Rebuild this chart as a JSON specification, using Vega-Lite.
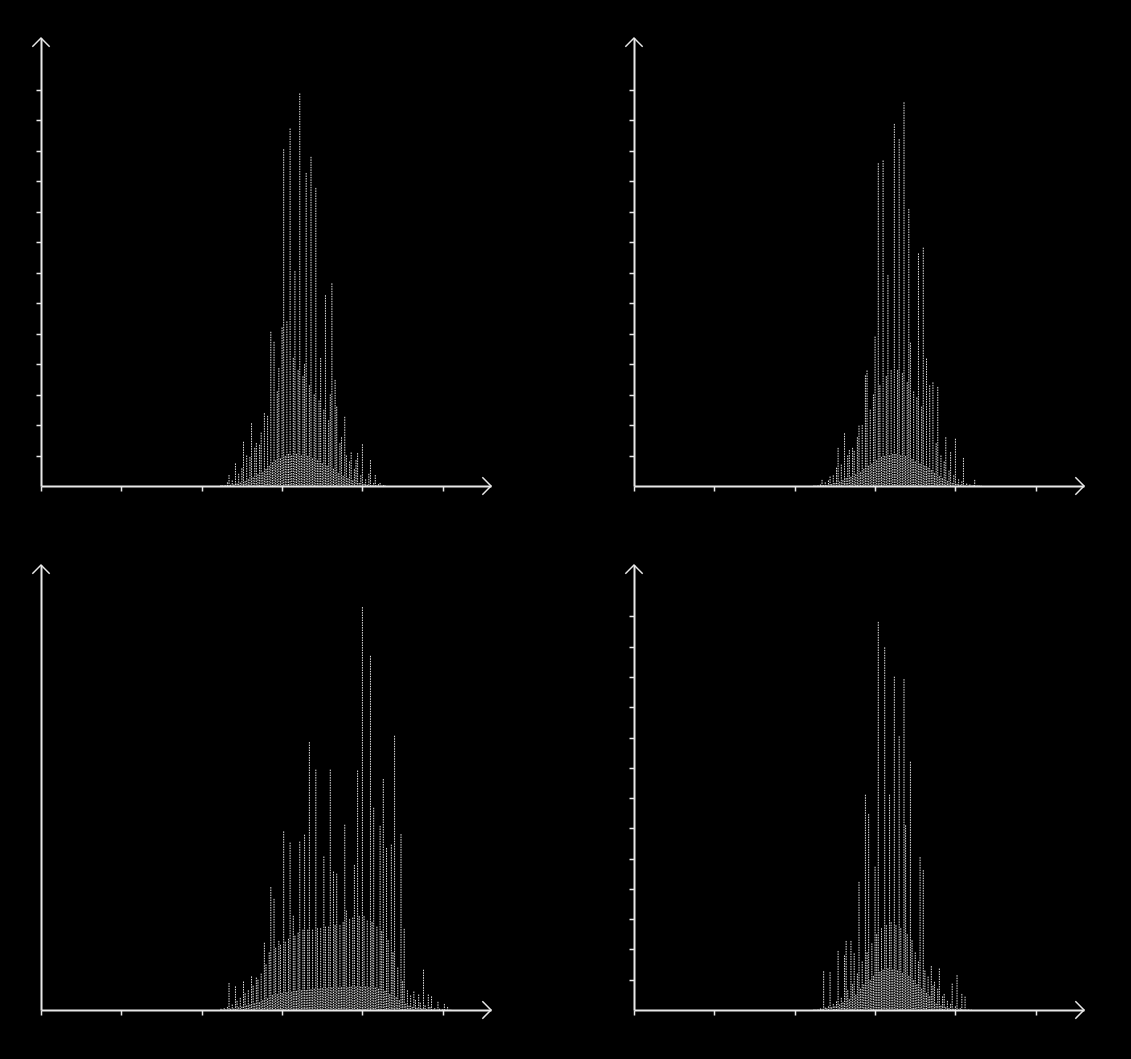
{
  "$schema": "https://vega.github.io/schema/vega-lite/v6.json",
  "background": "black",
  "padding": {"left": 29, "top": 35, "right": 60, "bottom": 60},
  "config": {
    "view": {"stroke": null},
    "axis": {"labels": false, "title": null, "grid": false, "domainColor": "#e8e8e8", "domainWidth": 2, "tickColor": "#e8e8e8", "tickWidth": 1.5, "tickSize": 5}
  },
  "columns": 2,
  "spacing": {"row": 64, "column": 128},
  "datasets": {
    "A": [
      {"x":112,"c":3},{"x":113,"c":2},{"x":114,"c":2},{"x":115,"c":3},{"x":116,"c":12},{"x":117,"c":36},{"x":118,"c":4},{"x":119,"c":18},{"x":120,"c":5},{"x":121,"c":74},
      {"x":122,"c":8},{"x":123,"c":40},{"x":124,"c":11},{"x":125,"c":58},{"x":126,"c":145},{"x":127,"c":16},{"x":128,"c":100},{"x":129,"c":22},{"x":130,"c":95},{"x":131,"c":206},
      {"x":132,"c":28},{"x":133,"c":125},{"x":134,"c":141},{"x":135,"c":38},{"x":136,"c":135},{"x":137,"c":175},{"x":138,"c":45},{"x":139,"c":239},{"x":140,"c":56},{"x":141,"c":230},
      {"x":142,"c":66},{"x":143,"c":506},{"x":144,"c":77},{"x":145,"c":473},{"x":146,"c":84},{"x":147,"c":310},{"x":148,"c":387},{"x":149,"c":90},{"x":150,"c":520},{"x":151,"c":1105},
      {"x":152,"c":98},{"x":153,"c":540},{"x":154,"c":105},{"x":155,"c":1173},{"x":156,"c":100},{"x":157,"c":420},{"x":158,"c":705},{"x":159,"c":105},{"x":160,"c":380},{"x":161,"c":1288},
      {"x":162,"c":100},{"x":163,"c":360},{"x":164,"c":400},{"x":165,"c":1027},{"x":166,"c":98},{"x":167,"c":330},{"x":168,"c":1080},{"x":169,"c":90},{"x":170,"c":300},{"x":171,"c":978},
      {"x":172,"c":84},{"x":173,"c":280},{"x":174,"c":420},{"x":175,"c":74},{"x":176,"c":250},{"x":177,"c":626},{"x":178,"c":66},{"x":179,"c":215},{"x":180,"c":300},{"x":181,"c":665},
      {"x":182,"c":56},{"x":183,"c":348},{"x":184,"c":260},{"x":185,"c":42},{"x":186,"c":140},{"x":187,"c":160},{"x":188,"c":33},{"x":189,"c":227},{"x":190,"c":100},{"x":191,"c":25},
      {"x":192,"c":80},{"x":193,"c":110},{"x":194,"c":18},{"x":195,"c":55},{"x":196,"c":85},{"x":197,"c":108},{"x":198,"c":10},{"x":199,"c":35},{"x":200,"c":137},{"x":201,"c":7},
      {"x":202,"c":22},{"x":203,"c":4},{"x":204,"c":40},{"x":205,"c":85},{"x":206,"c":3},{"x":207,"c":10},{"x":208,"c":36},{"x":209,"c":2},{"x":210,"c":6},{"x":211,"c":10},
      {"x":212,"c":1},{"x":213,"c":3},{"x":214,"c":2}
    ],
    "B": [
      {"x":112,"c":2},{"x":113,"c":1},{"x":114,"c":2},{"x":115,"c":2},{"x":116,"c":5},{"x":117,"c":20},{"x":118,"c":3},{"x":119,"c":12},{"x":120,"c":3},{"x":121,"c":18},
      {"x":122,"c":31},{"x":123,"c":6},{"x":124,"c":35},{"x":125,"c":10},{"x":126,"c":60},{"x":127,"c":125},{"x":128,"c":14},{"x":129,"c":70},{"x":130,"c":19},{"x":131,"c":173},
      {"x":132,"c":26},{"x":133,"c":100},{"x":134,"c":118},{"x":135,"c":30},{"x":136,"c":125},{"x":137,"c":115},{"x":138,"c":38},{"x":139,"c":160},{"x":140,"c":198},{"x":141,"c":45},
      {"x":142,"c":200},{"x":143,"c":56},{"x":144,"c":363},{"x":145,"c":379},{"x":146,"c":66},{"x":147,"c":250},{"x":148,"c":73},{"x":149,"c":300},{"x":150,"c":490},{"x":151,"c":84},
      {"x":152,"c":1059},{"x":153,"c":330},{"x":154,"c":95},{"x":155,"c":1068},{"x":156,"c":98},{"x":157,"c":360},{"x":158,"c":692},{"x":159,"c":100},{"x":160,"c":380},{"x":161,"c":105},
      {"x":162,"c":1188},{"x":163,"c":105},{"x":164,"c":380},{"x":165,"c":1138},{"x":166,"c":100},{"x":167,"c":370},{"x":168,"c":1259},{"x":169,"c":98},{"x":170,"c":340},{"x":171,"c":909},
      {"x":172,"c":470},{"x":173,"c":88},{"x":174,"c":310},{"x":175,"c":80},{"x":176,"c":290},{"x":177,"c":763},{"x":178,"c":73},{"x":179,"c":260},{"x":180,"c":782},{"x":181,"c":66},
      {"x":182,"c":418},{"x":183,"c":60},{"x":184,"c":330},{"x":185,"c":52},{"x":186,"c":340},{"x":187,"c":42},{"x":188,"c":140},{"x":189,"c":325},{"x":190,"c":32},{"x":191,"c":100},
      {"x":192,"c":25},{"x":193,"c":80},{"x":194,"c":160},{"x":195,"c":16},{"x":196,"c":50},{"x":197,"c":111},{"x":198,"c":10},{"x":199,"c":35},{"x":200,"c":155},{"x":201,"c":7},
      {"x":202,"c":22},{"x":203,"c":4},{"x":204,"c":15},{"x":205,"c":92},{"x":206,"c":2},{"x":207,"c":8},{"x":208,"c":1},{"x":209,"c":5},{"x":210,"c":1},{"x":211,"c":3},
      {"x":212,"c":20},{"x":213,"c":1},{"x":214,"c":2},{"x":215,"c":1},{"x":216,"c":1}
    ],
    "C": [
      {"x":112,"c":4},{"x":113,"c":1},{"x":114,"c":6},{"x":115,"c":2},{"x":116,"c":10},{"x":117,"c":89},{"x":118,"c":4},{"x":119,"c":18},{"x":120,"c":5},{"x":121,"c":78},
      {"x":122,"c":30},{"x":123,"c":9},{"x":124,"c":40},{"x":125,"c":11},{"x":126,"c":94},{"x":127,"c":55},{"x":128,"c":15},{"x":129,"c":65},{"x":130,"c":18},{"x":131,"c":111},
      {"x":132,"c":80},{"x":133,"c":22},{"x":134,"c":107},{"x":135,"c":100},{"x":136,"c":25},{"x":137,"c":120},{"x":138,"c":32},{"x":139,"c":222},{"x":140,"c":150},{"x":141,"c":38},
      {"x":142,"c":190},{"x":143,"c":406},{"x":144,"c":49},{"x":145,"c":367},{"x":146,"c":205},{"x":147,"c":52},{"x":148,"c":228},{"x":149,"c":215},{"x":150,"c":56},{"x":151,"c":590},
      {"x":152,"c":225},{"x":153,"c":58},{"x":154,"c":235},{"x":155,"c":553},{"x":156,"c":60},{"x":157,"c":311},{"x":158,"c":245},{"x":159,"c":63},{"x":160,"c":255},{"x":161,"c":556},
      {"x":162,"c":65},{"x":163,"c":265},{"x":164,"c":579},{"x":165,"c":66},{"x":166,"c":265},{"x":167,"c":885},{"x":168,"c":68},{"x":169,"c":265},{"x":170,"c":70},{"x":171,"c":794},
      {"x":172,"c":270},{"x":173,"c":70},{"x":174,"c":270},{"x":175,"c":72},{"x":176,"c":507},{"x":177,"c":275},{"x":178,"c":72},{"x":179,"c":275},{"x":180,"c":794},{"x":181,"c":74},
      {"x":182,"c":457},{"x":183,"c":280},{"x":184,"c":450},{"x":185,"c":74},{"x":186,"c":280},{"x":187,"c":75},{"x":188,"c":290},{"x":189,"c":612},{"x":190,"c":328},{"x":191,"c":75},
      {"x":192,"c":300},{"x":193,"c":77},{"x":194,"c":305},{"x":195,"c":479},{"x":196,"c":77},{"x":197,"c":791},{"x":198,"c":310},{"x":199,"c":77},{"x":200,"c":1331},{"x":201,"c":310},
      {"x":202,"c":77},{"x":203,"c":295},{"x":204,"c":75},{"x":205,"c":1170},{"x":206,"c":290},{"x":207,"c":668},{"x":208,"c":74},{"x":209,"c":275},{"x":210,"c":70},{"x":211,"c":608},
      {"x":212,"c":260},{"x":213,"c":763},{"x":214,"c":63},{"x":215,"c":535},{"x":216,"c":230},{"x":217,"c":52},{"x":218,"c":546},{"x":219,"c":190},{"x":220,"c":906},{"x":221,"c":42},
      {"x":222,"c":140},{"x":223,"c":32},{"x":224,"c":581},{"x":225,"c":95},{"x":226,"c":268},{"x":227,"c":21},{"x":228,"c":65},{"x":229,"c":14},{"x":230,"c":48},{"x":231,"c":10},
      {"x":232,"c":61},{"x":233,"c":33},{"x":234,"c":7},{"x":235,"c":51},{"x":236,"c":24},{"x":237,"c":5},{"x":238,"c":133},{"x":239,"c":15},{"x":240,"c":3},{"x":241,"c":51},
      {"x":242,"c":10},{"x":243,"c":45},{"x":244,"c":2},{"x":245,"c":6},{"x":246,"c":1},{"x":247,"c":27},{"x":248,"c":4},{"x":249,"c":1},{"x":250,"c":3},{"x":251,"c":20},
      {"x":252,"c":1},{"x":253,"c":10},{"x":254,"c":1},{"x":255,"c":1}
    ],
    "D": [
      {"x":112,"c":2},{"x":113,"c":1},{"x":114,"c":2},{"x":115,"c":2},{"x":116,"c":5},{"x":117,"c":4},{"x":118,"c":128},{"x":119,"c":8},{"x":120,"c":6},{"x":121,"c":12},
      {"x":122,"c":125},{"x":123,"c":9},{"x":124,"c":20},{"x":125,"c":12},{"x":126,"c":28},{"x":127,"c":195},{"x":128,"c":18},{"x":129,"c":40},{"x":130,"c":25},{"x":131,"c":180},
      {"x":132,"c":228},{"x":133,"c":65},{"x":134,"c":35},{"x":135,"c":228},{"x":136,"c":85},{"x":137,"c":187},{"x":138,"c":50},{"x":139,"c":120},{"x":140,"c":423},{"x":141,"c":70},
      {"x":142,"c":160},{"x":143,"c":84},{"x":144,"c":711},{"x":145,"c":190},{"x":146,"c":647},{"x":147,"c":98},{"x":148,"c":220},{"x":149,"c":112},{"x":150,"c":473},{"x":151,"c":250},
      {"x":152,"c":1282},{"x":153,"c":126},{"x":154,"c":270},{"x":155,"c":133},{"x":156,"c":1198},{"x":157,"c":280},{"x":158,"c":137},{"x":159,"c":711},{"x":160,"c":290},{"x":161,"c":133},
      {"x":162,"c":1101},{"x":163,"c":280},{"x":164,"c":130},{"x":165,"c":904},{"x":166,"c":270},{"x":167,"c":122},{"x":168,"c":1093},{"x":169,"c":610},{"x":170,"c":250},{"x":171,"c":112},
      {"x":172,"c":820},{"x":173,"c":230},{"x":174,"c":98},{"x":175,"c":190},{"x":176,"c":84},{"x":177,"c":160},{"x":178,"c":505},{"x":179,"c":70},{"x":180,"c":462},{"x":181,"c":130},
      {"x":182,"c":56},{"x":183,"c":110},{"x":184,"c":45},{"x":185,"c":145},{"x":186,"c":80},{"x":187,"c":93},{"x":188,"c":21},{"x":189,"c":70},{"x":190,"c":137},{"x":191,"c":14},
      {"x":192,"c":45},{"x":193,"c":53},{"x":194,"c":9},{"x":195,"c":30},{"x":196,"c":6},{"x":197,"c":20},{"x":198,"c":87},{"x":199,"c":4},{"x":200,"c":12},{"x":201,"c":115},
      {"x":202,"c":2},{"x":203,"c":6},{"x":204,"c":53},{"x":205,"c":1},{"x":206,"c":44},{"x":207,"c":1},{"x":208,"c":2},{"x":209,"c":1},{"x":210,"c":1}
    ]
  },
  "concat": [
    {
      "width": 450, "height": 448,
      "layer": [
        {"data": {"name": "A"}, "mark": {"type": "rule", "color": "#e0e0e0", "strokeWidth": 1, "strokeDash": [1.5, 1]},
         "encoding": {
           "x": {"field": "x", "type": "quantitative", "scale": {"domain": [0, 280], "nice": false, "zero": false}, "axis": {"values": [0, 50, 100, 150, 200, 250], "tickCount": 20}},
           "y": {"field": "c", "type": "quantitative", "scale": {"domain": [0, 1470], "nice": false}, "axis": {"values": [100, 200, 300, 400, 500, 600, 700, 800, 900, 1000, 1100, 1200, 1300], "tickCount": 20}},
           "y2": {"datum": 0}}},
        {"data": {"values": [{}]}, "mark": {"type": "point", "shape": "M-1,-1L0,0L-1,1", "filled": false, "stroke": "#e8e8e8", "strokeWidth": 1.5, "size": 300, "opacity": 1},
         "encoding": {"x": {"datum": 280}, "y": {"datum": 0}}},
        {"data": {"values": [{}]}, "mark": {"type": "point", "shape": "M-1,1L0,0L1,1", "filled": false, "stroke": "#e8e8e8", "strokeWidth": 1.5, "size": 300, "opacity": 1},
         "encoding": {"x": {"datum": 0}, "y": {"datum": 1470}}}
      ]
    },
    {
      "width": 450, "height": 448,
      "layer": [
        {"data": {"name": "B"}, "mark": {"type": "rule", "color": "#e0e0e0", "strokeWidth": 1, "strokeDash": [1.5, 1]},
         "encoding": {
           "x": {"field": "x", "type": "quantitative", "scale": {"domain": [0, 280], "nice": false, "zero": false}, "axis": {"values": [0, 50, 100, 150, 200, 250], "tickCount": 20}},
           "y": {"field": "c", "type": "quantitative", "scale": {"domain": [0, 1470], "nice": false}, "axis": {"values": [100, 200, 300, 400, 500, 600, 700, 800, 900, 1000, 1100, 1200, 1300], "tickCount": 20}},
           "y2": {"datum": 0}}},
        {"data": {"values": [{}]}, "mark": {"type": "point", "shape": "M-1,-1L0,0L-1,1", "filled": false, "stroke": "#e8e8e8", "strokeWidth": 1.5, "size": 300, "opacity": 1},
         "encoding": {"x": {"datum": 280}, "y": {"datum": 0}}},
        {"data": {"values": [{}]}, "mark": {"type": "point", "shape": "M-1,1L0,0L1,1", "filled": false, "stroke": "#e8e8e8", "strokeWidth": 1.5, "size": 300, "opacity": 1},
         "encoding": {"x": {"datum": 0}, "y": {"datum": 1470}}}
      ]
    },
    {
      "width": 450, "height": 445,
      "layer": [
        {"data": {"name": "C"}, "mark": {"type": "rule", "color": "#e0e0e0", "strokeWidth": 1, "strokeDash": [1.5, 1]},
         "encoding": {
           "x": {"field": "x", "type": "quantitative", "scale": {"domain": [0, 280], "nice": false, "zero": false}, "axis": {"values": [0, 50, 100, 150, 200, 250], "tickCount": 20}},
           "y": {"field": "c", "type": "quantitative", "scale": {"domain": [0, 1470], "nice": false}, "axis": {"ticks": false}},
           "y2": {"datum": 0}}},
        {"data": {"values": [{}]}, "mark": {"type": "point", "shape": "M-1,-1L0,0L-1,1", "filled": false, "stroke": "#e8e8e8", "strokeWidth": 1.5, "size": 300, "opacity": 1},
         "encoding": {"x": {"datum": 280}, "y": {"datum": 0}}},
        {"data": {"values": [{}]}, "mark": {"type": "point", "shape": "M-1,1L0,0L1,1", "filled": false, "stroke": "#e8e8e8", "strokeWidth": 1.5, "size": 300, "opacity": 1},
         "encoding": {"x": {"datum": 0}, "y": {"datum": 1470}}}
      ]
    },
    {
      "width": 450, "height": 445,
      "layer": [
        {"data": {"name": "D"}, "mark": {"type": "rule", "color": "#e0e0e0", "strokeWidth": 1, "strokeDash": [1.5, 1]},
         "encoding": {
           "x": {"field": "x", "type": "quantitative", "scale": {"domain": [0, 280], "nice": false, "zero": false}, "axis": {"values": [0, 50, 100, 150, 200, 250], "tickCount": 20}},
           "y": {"field": "c", "type": "quantitative", "scale": {"domain": [0, 1470], "nice": false}, "axis": {"values": [100, 200, 300, 400, 500, 600, 700, 800, 900, 1000, 1100, 1200, 1300], "tickCount": 20}},
           "y2": {"datum": 0}}},
        {"data": {"values": [{}]}, "mark": {"type": "point", "shape": "M-1,-1L0,0L-1,1", "filled": false, "stroke": "#e8e8e8", "strokeWidth": 1.5, "size": 300, "opacity": 1},
         "encoding": {"x": {"datum": 280}, "y": {"datum": 0}}},
        {"data": {"values": [{}]}, "mark": {"type": "point", "shape": "M-1,1L0,0L1,1", "filled": false, "stroke": "#e8e8e8", "strokeWidth": 1.5, "size": 300, "opacity": 1},
         "encoding": {"x": {"datum": 0}, "y": {"datum": 1470}}}
      ]
    }
  ]
}
